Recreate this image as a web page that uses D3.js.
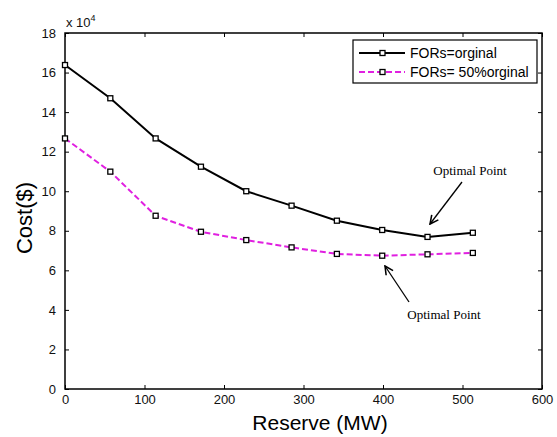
<!DOCTYPE html>
<html>
<head>
<meta charset="utf-8">
<script src="https://cdn.jsdelivr.net/npm/d3@7"></script>
<style>
  body { margin: 0; background: #fff; }
  text { font-family: "Liberation Sans", Arial, sans-serif; }
</style>
</head>
<body>
<svg></svg>
<script>
// x = Reserve (MW), y = Cost ($ x 10^4)
let reserve = [0, 57, 114, 171, 228, 285, 342, 399, 456, 513];
let costOriginal = [16.38, 14.7, 12.67, 11.24, 10.0, 9.27, 8.51, 8.04, 7.69, 7.9];
let costHalf = [12.67, 10.99, 8.76, 7.95, 7.53, 7.16, 6.83, 6.74, 6.81, 6.88];
let xTicks = [0, 100, 200, 300, 400, 500, 600];
let yTicks = [0, 2, 4, 6, 8, 10, 12, 14, 16, 18];

let width = 557;
let height = 437;
let padLeft = 65, padRight = 542, padTop = 33, padBottom = 389;

let svg = d3.select('svg')
  .attr('width', width)
  .attr('height', height);

let xScale = d3.scaleLinear().domain([0, 600]).range([padLeft, padRight]);
let yScale = d3.scaleLinear().domain([0, 18]).range([padBottom, padTop]);

// axes, ticks pointing inward like matlab
let xAxis = d3.axisBottom(xScale).tickValues(xTicks).tickSizeInner(-4).tickSizeOuter(0).tickPadding(6);
let yAxis = d3.axisLeft(yScale).tickValues(yTicks).tickSizeInner(-4).tickSizeOuter(0).tickPadding(9);
let xTop = d3.axisTop(xScale).tickValues(xTicks).tickSizeInner(-4).tickSizeOuter(0).tickFormat('');
let yRight = d3.axisRight(yScale).tickValues(yTicks).tickSizeInner(-4).tickSizeOuter(0).tickFormat('');

function styleAxis(g) {
  g.select('.domain').remove();
  g.selectAll('line').attr('stroke', '#000');
  g.selectAll('text').style('font-size', '13px').attr('fill', '#111');
}

svg.append('g').attr('transform', 'translate(0,' + padBottom + ')').call(xAxis).call(styleAxis);
svg.append('g').attr('transform', 'translate(' + padLeft + ',0)').call(yAxis).call(styleAxis);
svg.append('g').attr('transform', 'translate(0,' + padTop + ')').call(xTop).call(styleAxis);
svg.append('g').attr('transform', 'translate(' + padRight + ',0)').call(yRight).call(styleAxis);

svg.append('rect')
  .attr('x', padLeft).attr('y', padTop)
  .attr('width', padRight - padLeft).attr('height', padBottom - padTop)
  .attr('fill', 'none').attr('stroke', '#000').attr('stroke-width', 1.5);

// exponent label
let expo = svg.append('text').attr('x', padLeft + 1).attr('y', padTop - 6).style('font-size', '13px').attr('fill', '#111');
expo.append('tspan').text('x 10');
expo.append('tspan').attr('dy', -6).style('font-size', '9px').text('4');

let line = d3.line()
  .x(d => xScale(d[0]))
  .y(d => yScale(d[1]));

let series = [
  { values: costOriginal, color: '#000', dash: null, label: 'FORs=orginal' },
  { values: costHalf, color: '#e020e0', dash: '6,3', label: 'FORs= 50%orginal' }
];

series.forEach(s => {
  let pts = reserve.map((r, i) => [r, s.values[i]]);
  svg.append('path')
    .datum(pts)
    .attr('d', line)
    .attr('fill', 'none')
    .attr('stroke', s.color)
    .attr('stroke-width', 2)
    .attr('stroke-dasharray', s.dash);
  svg.append('g').selectAll('rect')
    .data(pts)
    .enter()
    .append('rect')
    .attr('x', d => xScale(d[0]) - 2.5)
    .attr('y', d => yScale(d[1]) - 2.5)
    .attr('width', 5)
    .attr('height', 5)
    .attr('fill', '#fff')
    .attr('stroke', '#000')
    .attr('stroke-width', 1.3);
});

// legend
let legend = svg.append('g');
legend.append('rect')
  .attr('x', 353).attr('y', 40).attr('width', 184).attr('height', 43)
  .attr('fill', '#fff').attr('stroke', '#000').attr('stroke-width', 1.2);
series.forEach((s, i) => {
  let ly = 53 + i * 19;
  legend.append('line')
    .attr('x1', 359).attr('x2', 405).attr('y1', ly).attr('y2', ly)
    .attr('stroke', s.color).attr('stroke-width', 2)
    .attr('stroke-dasharray', s.dash);
  legend.append('rect')
    .attr('x', 380).attr('y', ly - 2.5).attr('width', 5).attr('height', 5)
    .attr('fill', '#fff').attr('stroke', '#000').attr('stroke-width', 1.3);
  legend.append('text')
    .attr('x', 410).attr('y', ly + 5)
    .style('font-size', '14px')
    .text(s.label);
});

// annotations
svg.append('defs').append('marker')
  .attr('id', 'arrow')
  .attr('viewBox', '0 0 10 10')
  .attr('refX', 9).attr('refY', 5)
  .attr('markerWidth', 8).attr('markerHeight', 8)
  .attr('orient', 'auto')
  .append('path')
  .attr('d', 'M1,1 L9,5 L1,9')
  .attr('fill', 'none').attr('stroke', '#000').attr('stroke-width', 1.5);

let notes = [
  { tx: 470, ty: 175, x1: 462, y1: 182, x2: 430, y2: 224 },
  { tx: 444, ty: 319, x1: 409, y1: 302, x2: 385, y2: 266 }
];
notes.forEach(n => {
  svg.append('text')
    .attr('x', n.tx).attr('y', n.ty)
    .attr('text-anchor', 'middle')
    .style('font-family', '"Liberation Serif", "Times New Roman", serif')
    .style('font-size', '13px')
    .text('Optimal Point');
  svg.append('line')
    .attr('x1', n.x1).attr('y1', n.y1).attr('x2', n.x2).attr('y2', n.y2)
    .attr('stroke', '#000').attr('stroke-width', 1.3)
    .attr('marker-end', 'url(#arrow)');
});

// axis titles
svg.append('text')
  .attr('x', 320)
  .attr('y', 430)
  .attr('text-anchor', 'middle')
  .style('font-size', '21px')
  .text('Reserve (MW)');

svg.append('text')
  .attr('transform', 'rotate(-90)')
  .attr('x', -218)
  .attr('y', 32)
  .attr('text-anchor', 'middle')
  .style('font-size', '22px')
  .text('Cost($)');
</script>
</body>
</html>
